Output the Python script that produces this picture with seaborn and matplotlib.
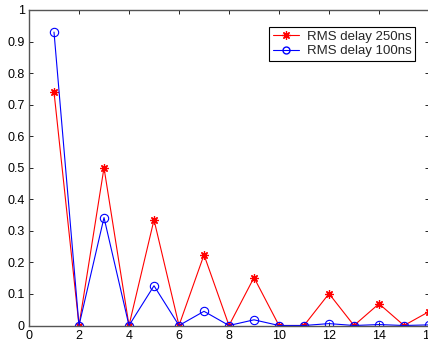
import numpy as np
import pandas as pd
import matplotlib
matplotlib.use("Agg")
import matplotlib.pyplot as plt
import seaborn as sns
from matplotlib.lines import Line2D

x_vals = [1, 2, 3, 4, 5, 6, 7, 8, 9, 10, 11, 12, 13, 14, 15, 16]
rms_250 = [0.74, 0, 0.50, 0, 0.335, 0, 0.224, 0, 0.152, 0, 0, 0.101, 0, 0.069, 0, 0.044]
rms_100 = [0.93, 0, 0.342, 0, 0.126, 0, 0.045, 0, 0.018, 0, 0, 0.006, 0, 0.003, 0, 0.002]
series_names = ["RMS delay 250ns", "RMS delay 100ns"]
x_ticks = [0, 2, 4, 6, 8, 10, 12, 14, 16]
y_ticks = [0, 0.1, 0.2, 0.3, 0.4, 0.5, 0.6, 0.7, 0.8, 0.9, 1]
y_tick_labels = ["0", "0.1", "0.2", "0.3", "0.4", "0.5", "0.6", "0.7", "0.8", "0.9", "1"]

df250 = pd.DataFrame({"x": x_vals, "y": rms_250})
df100 = pd.DataFrame({"x": x_vals, "y": rms_100})

sns.set_style("white")
plt.rcParams["font.family"] = ["Liberation Sans", "DejaVu Sans"]

ASTER = (8, 2, 0)

fig = plt.figure(figsize=(4.28, 3.45), dpi=100, facecolor="white")
ax = fig.add_axes([29 / 428, (345 - 325.5) / 345, 400 / 428, (325.5 - 10) / 345])

sns.lineplot(data=df250, x="x", y="y", color="#ff0000", marker=ASTER, markersize=6,
             markeredgewidth=0.9, markeredgecolor="#ff0000", linewidth=0.8, ax=ax)
sns.lineplot(data=df100, x="x", y="y", color="#0000ff", marker="o", markersize=6,
             markerfacecolor="none", markeredgecolor="#0000ff", markeredgewidth=0.8,
             linewidth=0.8, ax=ax)

ax.set_xlim(0, 16)
ax.set_ylim(0, 1)
ax.set_xticks(x_ticks)
ax.set_xticklabels([str(t) for t in x_ticks])
ax.set_yticks(y_ticks)
ax.set_yticklabels(y_tick_labels)
ax.set_xlabel("")
ax.set_ylabel("")
ax.tick_params(direction="in", length=3, width=0.6, labelsize=9, colors="black",
               top=True, right=True, bottom=True, left=True, pad=3)
for s in ax.spines.values():
    s.set_visible(True)
    s.set_color("#555555")
    s.set_linewidth(1.0)

handles = [
    Line2D([], [], color="#ff0000", marker=ASTER, markersize=6, markeredgewidth=0.9, linewidth=0.8),
    Line2D([], [], color="#0000ff", marker="o", markersize=5, markerfacecolor="none", linewidth=0.8),
]
leg = ax.legend(handles, series_names, loc="upper right",
                bbox_to_anchor=((415 - 29) / 400, (325.5 - 27) / 315.5),
                bbox_transform=ax.transAxes, fontsize=9.5, frameon=True, fancybox=False,
                edgecolor="black", framealpha=1, borderpad=0.25, labelspacing=0.2,
                handlelength=2.0, handletextpad=0.6, borderaxespad=0)
leg.get_frame().set_linewidth(0.8)

fig.savefig("out.png", dpi=100, facecolor="white")
